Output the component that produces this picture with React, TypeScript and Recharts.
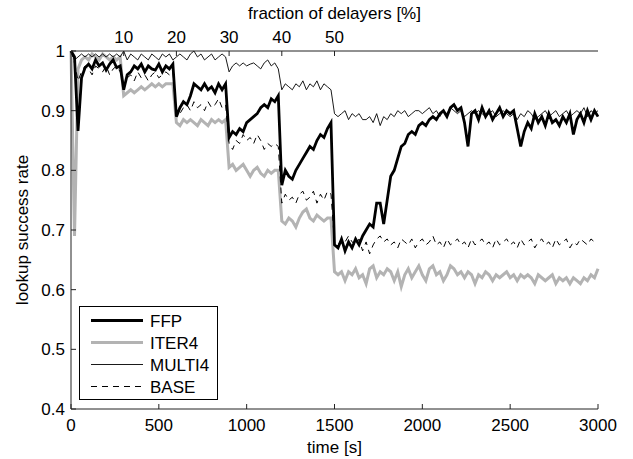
import { LineChart, Line, XAxis, YAxis, Legend } from "recharts"

// sampled every 20 s, 0..3000 s; each row = one 300 s phase (last row 1500..3000)
const ffp = [
  1.0, 0.99, 0.866, 0.955, 0.972, 0.978, 0.97, 0.985, 0.975, 0.98, 0.968, 0.978, 0.985, 0.972, 0.975,
  0.935, 0.96, 0.965, 0.975, 0.97, 0.978, 0.965, 0.975, 0.97, 0.968, 0.978, 0.965, 0.975, 0.97, 0.978,
  0.89, 0.905, 0.915, 0.91, 0.925, 0.945, 0.94, 0.935, 0.945, 0.935, 0.94, 0.93, 0.945, 0.935, 0.945,
  0.855, 0.865, 0.86, 0.87, 0.865, 0.88, 0.885, 0.89, 0.895, 0.905, 0.91, 0.905, 0.92, 0.915, 0.925,
  0.775, 0.8, 0.79, 0.785, 0.8, 0.81, 0.82, 0.83, 0.84, 0.835, 0.85, 0.86, 0.855, 0.87, 0.88,
  0.675, 0.67, 0.685, 0.665, 0.68, 0.67, 0.685, 0.675, 0.69, 0.7, 0.71, 0.705, 0.745, 0.745, 0.71, 0.75, 0.79, 0.8, 0.82, 0.84, 0.845, 0.86, 0.865, 0.86, 0.875,
  0.88, 0.875, 0.885, 0.89, 0.885, 0.895, 0.9, 0.89, 0.905, 0.91, 0.9, 0.905, 0.88, 0.84, 0.895, 0.9, 0.885, 0.905, 0.89, 0.9, 0.885, 0.895, 0.905, 0.89, 0.9,
  0.895, 0.9, 0.87, 0.84, 0.865, 0.88, 0.87, 0.895, 0.88, 0.89, 0.875, 0.895, 0.88, 0.885, 0.875, 0.89, 0.88, 0.895, 0.86, 0.885, 0.895, 0.88, 0.9, 0.885, 0.9,
  0.89,
]

const iter4 = [
  1.0, 0.69, 0.97, 0.985, 0.99, 0.985, 0.995, 0.99, 0.985, 0.995, 0.99, 0.985, 0.99, 0.985, 0.99,
  0.925, 0.93, 0.935, 0.93, 0.935, 0.94, 0.935, 0.94, 0.945, 0.94, 0.945, 0.94, 0.945, 0.945, 0.945,
  0.88, 0.875, 0.885, 0.88, 0.885, 0.88, 0.875, 0.885, 0.88, 0.875, 0.885, 0.88, 0.885, 0.88, 0.885,
  0.805, 0.81, 0.8, 0.805, 0.81, 0.8, 0.79, 0.8, 0.805, 0.795, 0.79, 0.8, 0.795, 0.8, 0.8,
  0.715, 0.71, 0.72, 0.715, 0.705, 0.72, 0.73, 0.735, 0.72, 0.715, 0.725, 0.72, 0.715, 0.72, 0.72,
  0.63, 0.625, 0.63, 0.615, 0.63, 0.625, 0.635, 0.62, 0.625, 0.61, 0.635, 0.64, 0.62, 0.63, 0.625, 0.635, 0.63, 0.615, 0.63, 0.605, 0.625, 0.635, 0.62, 0.63, 0.64,
  0.625, 0.615, 0.635, 0.64, 0.625, 0.63, 0.615, 0.625, 0.64, 0.635, 0.625, 0.63, 0.62, 0.63, 0.625, 0.61, 0.625, 0.62, 0.63, 0.625, 0.615, 0.625, 0.62, 0.625, 0.63,
  0.62, 0.625, 0.615, 0.625, 0.62, 0.625, 0.62, 0.61, 0.625, 0.62, 0.615, 0.62, 0.625, 0.61, 0.62, 0.615, 0.62, 0.61, 0.62, 0.615, 0.61, 0.62, 0.615, 0.625, 0.62,
  0.635,
]

const multi4 = [
  1.0, 0.985, 0.99, 0.995, 0.99, 0.995, 0.99, 0.995, 0.99, 0.995, 0.99, 0.995, 0.99, 0.995, 0.99,
  1.0, 0.985, 0.995, 0.99, 0.985, 0.995, 0.99, 0.985, 0.995, 0.99, 0.985, 0.995, 0.99, 0.995, 0.985,
  0.99, 0.995, 0.99, 0.985, 0.995, 1.0, 0.99, 0.995, 0.985, 0.99, 0.995, 0.985, 0.99, 0.995, 0.99,
  0.965, 0.975, 0.98, 0.975, 0.98, 0.975, 0.978, 0.98, 0.975, 0.97, 0.98, 0.985, 0.975, 0.98, 0.97,
  0.935, 0.945, 0.94, 0.935, 0.945, 0.94, 0.95, 0.935, 0.945, 0.94, 0.95, 0.935, 0.945, 0.94, 0.935,
  0.895, 0.89, 0.895, 0.9, 0.885, 0.895, 0.89, 0.895, 0.885, 0.885, 0.89, 0.88, 0.895, 0.875, 0.89, 0.885, 0.895, 0.89, 0.9, 0.895, 0.9, 0.89, 0.895, 0.9, 0.9,
  0.895, 0.9, 0.905, 0.895, 0.9, 0.89, 0.9, 0.895, 0.905, 0.9, 0.895, 0.9, 0.89, 0.895, 0.9, 0.895, 0.9, 0.895, 0.89, 0.895, 0.9, 0.89, 0.895, 0.9, 0.895,
  0.89, 0.895, 0.885, 0.895, 0.89, 0.9, 0.895, 0.885, 0.89, 0.895, 0.9, 0.89, 0.895, 0.9, 0.89, 0.895, 0.9, 0.89, 0.895, 0.9, 0.895, 0.905, 0.89, 0.9, 0.895,
  0.9,
]

const base = [
  1.0, 0.98, 0.95, 0.965, 0.975, 0.97, 0.96, 0.975, 0.97, 0.965, 0.975, 0.96, 0.97, 0.975, 0.965,
  0.945, 0.955, 0.96, 0.95, 0.965, 0.955, 0.96, 0.95, 0.96, 0.965, 0.955, 0.96, 0.965, 0.96, 0.965,
  0.9, 0.895, 0.905, 0.91, 0.9, 0.915, 0.905, 0.91, 0.9, 0.915, 0.905, 0.91, 0.92, 0.905, 0.91,
  0.845, 0.835, 0.85, 0.845, 0.86, 0.85, 0.855, 0.845, 0.86, 0.85, 0.835, 0.845, 0.84, 0.845, 0.84,
  0.745, 0.76, 0.75, 0.755, 0.745, 0.76, 0.765, 0.75, 0.755, 0.765, 0.745, 0.76, 0.75, 0.765, 0.76,
  0.68, 0.675, 0.685, 0.68, 0.69, 0.68, 0.675, 0.685, 0.665, 0.68, 0.66, 0.675, 0.685, 0.69, 0.68, 0.685, 0.675, 0.68, 0.67, 0.685, 0.68, 0.675, 0.685, 0.67, 0.68,
  0.685, 0.675, 0.68, 0.69, 0.675, 0.68, 0.67, 0.685, 0.675, 0.68, 0.685, 0.675, 0.68, 0.67, 0.685, 0.675, 0.68, 0.685, 0.675, 0.68, 0.67, 0.685, 0.675, 0.68, 0.685,
  0.675, 0.68, 0.67, 0.685, 0.675, 0.68, 0.685, 0.67, 0.68, 0.685, 0.675, 0.68, 0.67, 0.685, 0.675, 0.68, 0.685, 0.67, 0.68, 0.675, 0.685, 0.68, 0.675, 0.685, 0.68,
  0.68,
]

const STEP = 20
const timeTicks = [0, 500, 1000, 1500, 2000, 2500, 3000]
const delayerTicks = [300, 600, 900, 1200, 1500] // 10..50 %
const rateTicks = [0.4, 0.5, 0.6, 0.7, 0.8, 0.9, 1]

const data = ffp.map((v, i) => ({
  t: i * STEP,
  ffp: v,
  iter4: iter4[i],
  multi4: multi4[i],
  base: base[i],
}))

const series = [
  { key: "ffp", name: "FFP", color: "#000", width: 2.8 },
  { key: "iter4", name: "ITER4", color: "#b3b3b3", width: 3 },
  { key: "multi4", name: "MULTI4", color: "#000", width: 0.9 },
  { key: "base", name: "BASE", color: "#000", width: 1, dash: "6 5" },
]
const drawOrder = ["iter4", "base", "multi4", "ffp"]

const FONT = '"Liberation Sans", Arial, Helvetica, sans-serif'
const FS = 17
const AX = "#222"

const BottomTick = ({ x, y, payload }: any) => (
  <g>
    <line x1={x} x2={x} y1={y} y2={y - 5} stroke={AX} />
    <text x={x} y={y + 22} textAnchor="middle" fontSize={FS} fontFamily={FONT} fill="#000">{payload.value}</text>
  </g>
)

const TopTick = ({ x, y, payload }: any) => (
  <g>
    <line x1={x} x2={x} y1={y} y2={y + 5} stroke={AX} />
    <text x={x} y={y - 8} textAnchor="middle" fontSize={FS} fontFamily={FONT} fill="#000">{Math.round(payload.value / 30)}</text>
  </g>
)

const LeftTick = ({ x, y, payload }: any) => (
  <g>
    <line x1={x} x2={x + 5} y1={y} y2={y} stroke={AX} />
    <text x={x - 6} y={y + 6} textAnchor="end" fontSize={FS} fontFamily={FONT} fill="#000">
      {payload.value === 1 ? "1" : Number(payload.value).toFixed(1)}
    </text>
  </g>
)

const LegendBox = () => (
  <svg width={139} height={94} style={{ display: "block" }}>
    <rect x={0.5} y={0.5} width={138} height={93} fill="#fff" stroke="#000" />
    {series.map((s, i) => {
      const cy = 14.5 + i * 22
      return (
        <g key={s.key}>
          <line x1={12} x2={64} y1={cy} y2={cy} stroke={s.color} strokeWidth={s.width} strokeDasharray={s.dash} />
          <text x={71} y={cy + 6} fontSize={FS} fontFamily={FONT} fill="#000">{s.name}</text>
        </g>
      )
    })}
  </svg>
)

export default function App() {
  return (
    <div style={{ width: 633, height: 459, background: "#fff" }}>
      <style>{"body{margin:0}"}</style>
      <LineChart width={633} height={459} data={data} margin={{ top: 0, right: 35, bottom: 0, left: 0 }}>
        <XAxis
          dataKey="t"
          type="number"
          domain={[0, 3000]}
          ticks={timeTicks}
          interval={0}
          height={50}
          tickSize={0}
          tickMargin={0}
          tick={BottomTick}
          axisLine={{ stroke: AX }}
          label={{
            content: ({ viewBox }: any) => (
              <text x={viewBox.x + viewBox.width / 2} y={viewBox.y + 44} textAnchor="middle" fontSize={FS} fontFamily={FONT} fill="#000">time [s]</text>
            ),
          }}
        />
        <XAxis
          xAxisId="top"
          orientation="top"
          dataKey="t"
          type="number"
          domain={[0, 3000]}
          ticks={delayerTicks}
          interval={0}
          height={51}
          tickSize={0}
          tickMargin={0}
          tick={TopTick}
          axisLine={{ stroke: AX }}
          label={{
            content: ({ viewBox }: any) => (
              <text x={viewBox.x + viewBox.width / 2} y={viewBox.y + 19} textAnchor="middle" fontSize={FS} fontFamily={FONT} fill="#000">fraction of delayers [%]</text>
            ),
          }}
        />
        <YAxis
          type="number"
          domain={[0.4, 1]}
          ticks={rateTicks}
          interval={0}
          width={71}
          tickSize={0}
          tickMargin={0}
          tick={LeftTick}
          axisLine={{ stroke: AX }}
          label={{
            content: ({ viewBox }: any) => {
              const cx = 22
              const cy = viewBox.y + viewBox.height / 2
              return (
                <text x={cx} y={cy} transform={`rotate(-90 ${cx} ${cy})`} textAnchor="middle" dominantBaseline="central" fontSize={FS} fontFamily={FONT} fill="#000">lookup success rate</text>
              )
            },
          }}
        />
        {drawOrder.map((k) => {
          const s = series.find((d) => d.key === k)!
          return (
            <Line
              key={k}
              type="linear"
              dataKey={k}
              name={s.name}
              stroke={s.color}
              strokeWidth={s.width}
              strokeDasharray={s.dash}
              dot={false}
              activeDot={false}
              isAnimationActive={false}
            />
          )
        })}
        <Legend
          layout="vertical"
          align="center"
          verticalAlign="middle"
          content={LegendBox}
          wrapperStyle={{ left: 79, top: 306, width: 139, height: 94 }}
        />
      </LineChart>
    </div>
  )
}
